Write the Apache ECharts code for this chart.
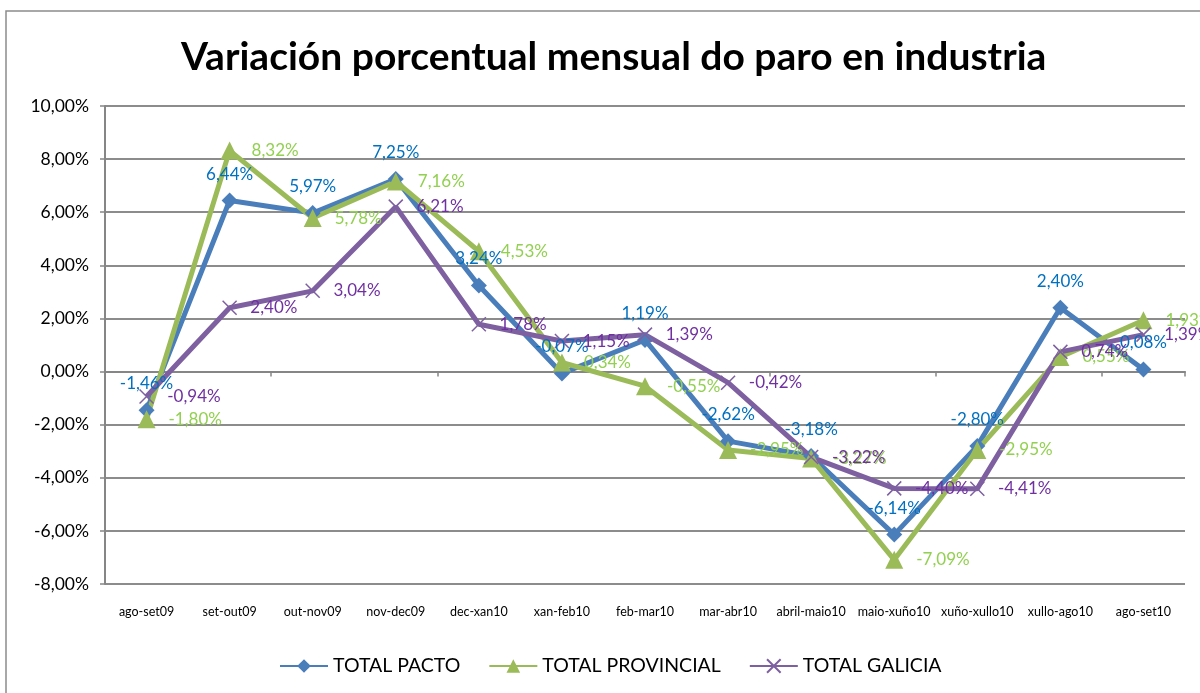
<!DOCTYPE html>
<html>
<head>
<meta charset="utf-8">
<script src="https://cdn.jsdelivr.net/npm/echarts@6/dist/echarts.min.js"></script>
<style>
  html, body { margin: 0; padding: 0; background: #fff; }
  #chart { width: 1200px; height: 693px; }
</style>
</head>
<body>
<div id="chart"></div>
<script>
const categories = ['ago-set09', 'set-out09', 'out-nov09', 'nov-dec09', 'dec-xan10', 'xan-feb10', 'feb-mar10', 'mar-abr10', 'abril-maio10', 'maio-xuño10', 'xuño-xullo10', 'xullo-ago10', 'ago-set10']
const totalPacto = [-1.46, 6.44, 5.97, 7.25, 3.24, -0.07, 1.19, -2.62, -3.18, -6.14, -2.80, 2.40, 0.08]
const totalProvincial = [-1.80, 8.32, 5.78, 7.16, 4.53, 0.34, -0.55, -2.95, -3.27, -7.09, -2.95, 0.55, 1.93]
const totalGalicia = [-0.94, 2.40, 3.04, 6.21, 1.78, 1.15, 1.39, -0.42, -3.22, -4.40, -4.41, 0.74, 1.39]
const yTicks = [-8, -6, -4, -2, 0, 2, 4, 6, 8, 10]

const fmt = (v) => v.toFixed(2).replace('.', ',') + '%'
const font = 'Lato, "Open Sans", sans-serif'
const crossPath = 'path://M0,0L20,20M20,0L0,20'

let myChart = echarts.init(document.getElementById('chart'))

function lineSeries (name, data, lineColor, labelColor, symbol, symbolSize, labelPos, dist, extra) {
  return Object.assign({
    name: name,
    type: 'line',
    data: data,
    xAxisIndex: 0,
    symbol: symbol,
    symbolSize: symbolSize,
    lineStyle: { color: lineColor, width: 5 },
    itemStyle: { color: lineColor },
    label: {
      show: true,
      position: labelPos,
      distance: dist,
      color: labelColor,
      fontFamily: font,
      fontSize: 17,
      formatter: (p) => fmt(p.value)
    },
    emphasis: { disabled: true },
    animation: false
  }, extra || {})
}

myChart.setOption({
  backgroundColor: '#fff',
  title: {
    text: 'Variación porcentual mensual do paro en industria',
    left: 176,
    top: 33,
    textStyle: { fontFamily: font, fontWeight: 'bold', fontSize: 39, color: '#000' }
  },
  graphic: [{
    type: 'polyline',
    shape: { points: [[6, 700], [6, 11], [1200, 11]] },
    style: { stroke: '#8c8c8c', lineWidth: 1.5, fill: null },
    silent: true
  }],
  legend: {
    bottom: 12,
    left: 274,
    itemWidth: 48,
    itemHeight: 17,
    itemGap: 28,
    textStyle: { fontFamily: font, fontSize: 19.5, color: '#000' },
    data: ['TOTAL PACTO', 'TOTAL PROVINCIAL', 'TOTAL GALICIA']
  },
  grid: { left: 105, right: 15, top: 106, bottom: 109 },
  xAxis: [{
    type: 'category',
    data: categories,
    boundaryGap: true,
    axisLine: { onZero: true, lineStyle: { color: '#868686', width: 2 } },
    axisTick: { show: true, inside: false, length: 5, lineStyle: { color: '#868686', width: 1.5 } },
    axisLabel: { show: false },
    splitLine: { show: false }
  }, {
    type: 'category',
    data: categories,
    position: 'bottom',
    boundaryGap: true,
    axisLine: { show: false, onZero: false },
    axisTick: { show: false },
    axisLabel: { show: true, interval: 0, margin: 21, color: '#000', fontFamily: font, fontSize: 12.5 },
    splitLine: { show: false }
  }],
  yAxis: {
    type: 'value',
    min: yTicks[0],
    max: yTicks[yTicks.length - 1],
    interval: 2,
    axisLine: { show: true, lineStyle: { color: '#868686', width: 2 } },
    axisTick: { show: true, length: 5, lineStyle: { color: '#868686', width: 1.5 } },
    axisLabel: { color: '#000', fontFamily: font, fontSize: 17.5, margin: 16, formatter: (v) => fmt(v) },
    splitLine: { show: true, lineStyle: { color: '#8c8c8c', width: 2 } }
  },
  series: [
    lineSeries('TOTAL PACTO', totalPacto, '#4a7ebb', '#0070c0', 'diamond', 16, 'top', 10),
    lineSeries('TOTAL PROVINCIAL', totalProvincial, '#9bbb59', '#92d050', 'triangle', 18, 'right', 13),
    lineSeries('TOTAL GALICIA', totalGalicia, '#7e60a1', '#7030a0', crossPath, 14, 'right', 13, {
      itemStyle: { color: '#7e60a1', borderColor: '#7e60a1', borderWidth: 1.5 }
    })
  ]
})
</script>
</body>
</html>
